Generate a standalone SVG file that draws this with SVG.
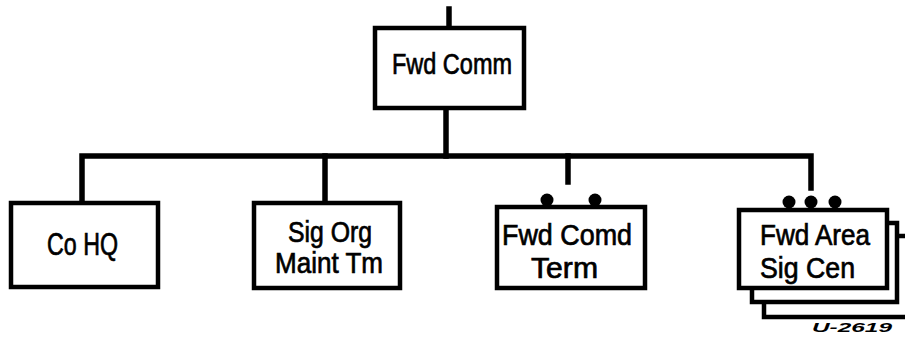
<svg xmlns="http://www.w3.org/2000/svg" width="905" height="338" viewBox="0 0 905 338">
<style>
.box{fill:#fff;stroke:#000;stroke-width:4.5}
.ln{fill:none;stroke:#000;stroke-width:5.5;stroke-linecap:square}
.t{font-family:"Liberation Sans",Arial,sans-serif;font-size:29px;fill:#000;stroke:#000;stroke-width:0.7;text-anchor:start}
.dot{fill:#000}
.id{font-family:"Liberation Sans",Arial,sans-serif;font-size:13px;font-style:italic;font-weight:bold;fill:#000}
</style>
<rect width="905" height="338" fill="#fff"/>
<g id="connectors">
<path class="ln" d="M449 9V28"/>
<path class="ln" d="M446 108V156"/>
<path class="ln" d="M82 203V156H811V188"/>
<path class="ln" d="M325 156V203"/>
<path class="ln" d="M568 156V182"/>
</g>
<g id="fwd-comm">
<rect class="box" x="375" y="28" width="149" height="80"/>
<text class="t" x="392" y="74" textLength="120" lengthAdjust="spacingAndGlyphs">Fwd Comm</text>
</g>
<g id="co-hq">
<rect class="box" x="11" y="203" width="147" height="84"/>
<text class="t" x="47" y="255" textLength="71" lengthAdjust="spacingAndGlyphs" style="font-size:31px">Co HQ</text>
</g>
<g id="sig-org-maint-tm">
<rect class="box" x="254" y="203" width="146" height="85"/>
<text class="t" x="288" y="242" textLength="84" lengthAdjust="spacingAndGlyphs">Sig Org</text>
<text class="t" x="275" y="273" textLength="108" lengthAdjust="spacingAndGlyphs">Maint Tm</text>
</g>
<g id="fwd-comd-term">
<circle class="dot" cx="547" cy="200" r="6.5"/>
<circle class="dot" cx="595" cy="200" r="6.5"/>
<rect class="box" x="497" y="207" width="148" height="81"/>
<text class="t" x="502" y="245" textLength="130" lengthAdjust="spacingAndGlyphs">Fwd Comd</text>
<text class="t" x="531" y="278" textLength="67" lengthAdjust="spacingAndGlyphs">Term</text>
</g>
<g id="fwd-area-sig-cen">
<rect class="box" x="764" y="236" width="150" height="81"/>
<rect class="box" x="752" y="223" width="145" height="79"/>
<circle class="dot" cx="789" cy="202" r="6.5"/>
<circle class="dot" cx="811" cy="202" r="6.5"/>
<circle class="dot" cx="835" cy="202" r="6.5"/>
<rect class="box" x="739" y="210" width="148" height="78"/>
<text class="t" x="760" y="245" textLength="110" lengthAdjust="spacingAndGlyphs">Fwd Area</text>
<text class="t" x="760" y="278" textLength="95" lengthAdjust="spacingAndGlyphs">Sig Cen</text>
</g>
<text class="id" x="812" y="332" textLength="80" lengthAdjust="spacingAndGlyphs">U-2619</text>
</svg>
